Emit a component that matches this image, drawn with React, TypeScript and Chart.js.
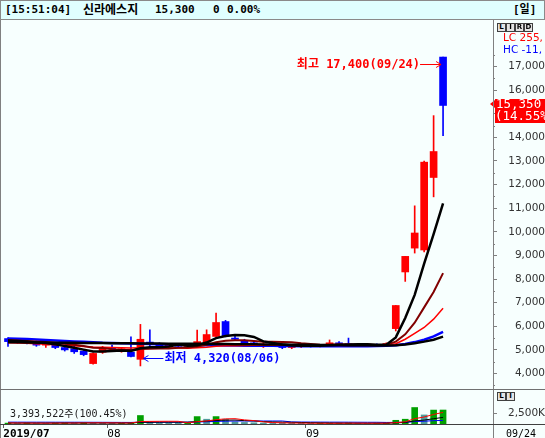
import React, { useEffect, useRef } from 'react';
import { Chart, registerables } from 'chart.js';

Chart.register(...registerables);

// ---------------- data ----------------
const dates = [
  '07/17', '07/18', '07/19', '07/22', '07/23', '07/24', '07/25', '07/26', '07/29', '07/30', '07/31',
  '08/01', '08/02', '08/05', '08/06', '08/07', '08/08', '08/09', '08/12', '08/13', '08/14', '08/16',
  '08/19', '08/20', '08/21', '08/22', '08/23', '08/26', '08/27', '08/28', '08/29', '08/30',
  '09/02', '09/03', '09/04', '09/05', '09/06', '09/09', '09/10', '09/11', '09/16', '09/17', '09/18',
  '09/19', '09/20', '09/23', '09/24',
];
const opens = [5480, 5400, 5350, 5300, 5200, 5250, 5100, 5050, 4950, 4420, 4900, 5100, 4980, 4900, 4600, 5330, 5230, 5150, 5200, 5150, 5230, 5320, 5570, 6200, 5500, 5400, 5300, 5200, 5250, 5200, 5100, 5150, 5180, 5150, 5200, 5300, 5250, 5220, 5200, 5230, 5200, 5900, 8300, 9310, 9230, 12300, 17400];
const highs = [5520, 5480, 5420, 5380, 5320, 5300, 5200, 5150, 5000, 4880, 5150, 5200, 5100, 5550, 6080, 5850, 5300, 5250, 5260, 5250, 5840, 5850, 6560, 6250, 5650, 5450, 5350, 5300, 5300, 5250, 5200, 5200, 5220, 5230, 5420, 5350, 5500, 5260, 5250, 5260, 5300, 6880, 8960, 11100, 13000, 14920, 17400];
const lows = [5150, 5280, 5250, 5150, 5100, 5050, 4950, 4850, 4750, 4400, 4850, 5000, 4900, 4700, 4320, 5150, 5050, 5080, 5100, 5100, 5200, 5300, 5550, 5550, 5400, 5250, 5200, 5100, 5150, 5050, 5050, 5100, 5120, 5130, 5180, 5200, 5200, 5150, 5150, 5150, 5150, 5800, 7900, 9100, 9150, 11480, 14070];
const closes = [5350, 5330, 5300, 5200, 5250, 5100, 5000, 4920, 4800, 4850, 5100, 5050, 5050, 4720, 5450, 5230, 5120, 5200, 5150, 5180, 5350, 5650, 6160, 5570, 5450, 5300, 5250, 5250, 5200, 5100, 5150, 5180, 5150, 5200, 5300, 5250, 5220, 5200, 5230, 5180, 5270, 6880, 8960, 9950, 12950, 13400, 15350];

const ma5 = [5400, 5380, 5350, 5310, 5290, 5240, 5160, 5090, 5010, 4930, 4930, 4950, 4970, 4950, 5070, 5110, 5110, 5140, 5230, 5180, 5200, 5310, 5500, 5590, 5630, 5620, 5550, 5360, 5290, 5230, 5190, 5180, 5170, 5180, 5200, 5220, 5230, 5240, 5240, 5220, 5220, 5530, 6350, 7330, 8650, 9900, 11200];
const ma10 = [5420, 5400, 5380, 5360, 5330, 5300, 5260, 5220, 5160, 5090, 5080, 5030, 5000, 4990, 5040, 5050, 5060, 5060, 5090, 5100, 5140, 5220, 5320, 5390, 5410, 5410, 5380, 5340, 5340, 5330, 5320, 5280, 5250, 5220, 5210, 5200, 5200, 5200, 5200, 5200, 5220, 5350, 5660, 6150, 6800, 7450, 8250];
const ma20 = [5300, 5290, 5280, 5260, 5240, 5220, 5200, 5170, 5140, 5120, 5110, 5100, 5090, 5080, 5090, 5090, 5090, 5080, 5080, 5070, 5090, 5110, 5150, 5170, 5180, 5190, 5200, 5200, 5200, 5210, 5220, 5220, 5220, 5220, 5230, 5240, 5240, 5230, 5230, 5220, 5220, 5260, 5450, 5700, 5950, 6300, 6760];
const ma60 = [5480, 5470, 5460, 5440, 5420, 5400, 5380, 5360, 5340, 5320, 5300, 5290, 5280, 5270, 5260, 5250, 5240, 5230, 5220, 5210, 5200, 5200, 5200, 5190, 5190, 5180, 5180, 5170, 5170, 5160, 5160, 5150, 5150, 5150, 5150, 5150, 5150, 5150, 5150, 5160, 5170, 5200, 5250, 5330, 5430, 5570, 5760];
const ma120 = [5320, 5320, 5315, 5310, 5310, 5305, 5300, 5300, 5295, 5290, 5290, 5285, 5280, 5280, 5275, 5270, 5270, 5265, 5260, 5260, 5255, 5250, 5250, 5245, 5240, 5240, 5235, 5230, 5230, 5225, 5220, 5220, 5215, 5210, 5210, 5205, 5200, 5200, 5195, 5190, 5190, 5200, 5230, 5280, 5350, 5430, 5560];

const volumes = [220000, 180000, 260000, 200000, 150000, 240000, 300000, 280000, 350000, 260000, 240000, 180000, 200000, 300000, 2060000, 420000, 300000, 250000, 220000, 260000, 1800000, 1160000, 1800000, 1160000, 520000, 380000, 300000, 260000, 240000, 220000, 200000, 180000, 160000, 180000, 200000, 220000, 260000, 180000, 160000, 200000, 250000, 900000, 1160000, 4000000, 2200000, 3378300, 3393522];
const volMa5 = [250000, 240000, 230000, 220000, 210000, 220000, 230000, 240000, 260000, 280000, 280000, 270000, 250000, 240000, 600000, 630000, 650000, 660000, 650000, 290000, 570000, 740000, 1050000, 1240000, 1290000, 1000000, 830000, 520000, 340000, 280000, 240000, 220000, 200000, 190000, 180000, 190000, 210000, 210000, 200000, 200000, 210000, 340000, 530000, 1300000, 1700000, 2320000, 2820000];
const volMa10 = [240000, 240000, 235000, 230000, 230000, 235000, 240000, 240000, 245000, 250000, 250000, 245000, 240000, 245000, 410000, 420000, 440000, 450000, 440000, 440000, 570000, 700000, 850000, 940000, 970000, 820000, 750000, 590000, 500000, 460000, 420000, 370000, 320000, 280000, 250000, 220000, 210000, 200000, 200000, 200000, 200000, 280000, 380000, 750000, 950000, 1280000, 1600000];
const volMa20 = [450000, 450000, 445000, 440000, 440000, 435000, 430000, 430000, 425000, 420000, 410000, 400000, 390000, 380000, 440000, 440000, 440000, 440000, 440000, 440000, 500000, 540000, 620000, 690000, 720000, 730000, 730000, 730000, 730000, 730000, 500000, 480000, 470000, 460000, 450000, 450000, 440000, 430000, 420000, 420000, 380000, 390000, 410000, 580000, 680000, 800000, 880000];

const priceTicks = [4000, 5000, 6000, 7000, 8000, 9000, 10000, 11000, 12000, 13000, 14000, 15000, 16000, 17000];
const priceMinorTicks = [3500, 4500, 5500, 6500, 7500, 8500, 9500, 10500, 11500, 12500, 13500, 14500, 15500, 16500, 17500];
const volumeTicks = [2500000];
const monthTickIndex = [0, 11, 32];
const monthTickLabels = ['2019/07', '08', '09'];

const titleTime = '[15:51:04]';
const titleName = '신라에스지';
const titlePrice = '15,300';
const titleChange = '0';
const titleRate = '0.00%';
const titlePeriod = '[일]';

// ---------------- styles ----------------
const UP = '#ff0000';
const DOWN = '#0000ff';
const MONO = "'DejaVu Sans Mono', 'Noto Sans CJK KR', monospace";
const SANS = "'DejaVu Sans', 'Noto Sans CJK KR', sans-serif";
const X_MIN = -0.846;
const X_MAX = 51.28;
const fmt = (v: number) => v.toLocaleString('en-US');

function drawArrow(ctx: CanvasRenderingContext2D, from: number, tip: number, y: number) {
  const d = tip > from ? -1 : 1;
  ctx.beginPath();
  ctx.moveTo(from, y);
  ctx.lineTo(tip, y);
  ctx.moveTo(tip + d * 5, y - 3);
  ctx.lineTo(tip, y);
  ctx.lineTo(tip + d * 5, y + 3);
  ctx.stroke();
}

const pricePlugin = {
  id: 'priceDecor',
  afterDatasetsDraw(chart: any) {
    const { ctx, scales } = chart;
    const x = scales.x;
    const y = scales.y;
    let hi = 0;
    let lo = 0;
    highs.forEach((v, i) => { if (v > highs[hi]) hi = i; });
    lows.forEach((v, i) => { if (v < lows[lo]) lo = i; });
    ctx.save();
    ctx.font = `bold 12px ${MONO}`;
    ctx.textBaseline = 'middle';
    ctx.lineWidth = 1;
    // highest
    const hTip = x.getPixelForValue(hi) - 2;
    const hy = Math.round(y.getPixelForValue(highs[hi]) + 7) + 0.5;
    ctx.strokeStyle = UP;
    ctx.fillStyle = UP;
    drawArrow(ctx, hTip - 21, hTip, hy);
    ctx.textAlign = 'right';
    ctx.fillText(`최고 ${fmt(highs[hi])}(${dates[hi]})`, hTip - 21, hy);
    // lowest
    const lTip = x.getPixelForValue(lo) + 3;
    const ly = Math.round(y.getPixelForValue(lows[lo]) - 7.5) + 0.5;
    ctx.strokeStyle = DOWN;
    ctx.fillStyle = DOWN;
    drawArrow(ctx, lTip + 20, lTip, ly);
    ctx.textAlign = 'left';
    ctx.fillText(`최저 ${fmt(lows[lo])}(${dates[lo]})`, lTip + 21, ly);
    ctx.restore();
  },
  afterDraw(chart: any) {
    const { ctx, scales, chartArea } = chart;
    const y = scales.y;
    const r = chartArea.right;
    ctx.save();
    // minor ticks
    ctx.strokeStyle = '#808080';
    ctx.lineWidth = 1;
    priceMinorTicks.forEach((v) => {
      const py = Math.round(y.getPixelForValue(v)) + 0.5;
      ctx.beginPath();
      ctx.moveTo(r, py);
      ctx.lineTo(r + 2, py);
      ctx.stroke();
    });
    // current price label
    const last = closes.length - 1;
    const py = Math.round(y.getPixelForValue(closes[last]));
    const rate = ((closes[last] - closes[last - 1]) / closes[last - 1]) * 100;
    ctx.fillStyle = UP;
    ctx.beginPath();
    ctx.moveTo(r - 3, py - 1);
    ctx.lineTo(r + 2, py - 5);
    ctx.lineTo(r + 2, py + 3);
    ctx.closePath();
    ctx.fill();
    ctx.fillRect(r + 2, py - 6, 60, 24);
    ctx.fillStyle = '#ffffff';
    ctx.font = `12.5px ${MONO}`;
    ctx.textAlign = 'left';
    ctx.textBaseline = 'middle';
    ctx.fillText(fmt(closes[last]), r + 3, py);
    ctx.fillText(`(${rate.toFixed(2)}%)`, r + 2, py + 12);
    ctx.restore();
  },
};

function lineDs(data: number[], color: string, width: number) {
  return {
    type: 'line' as const,
    data: data.map((v, i) => ({ x: i, y: v })),
    borderColor: color,
    borderWidth: width,
    pointRadius: 0,
    tension: 0,
    fill: false,
    order: 0,
  };
}

export default function App() {
  const mainRef = useRef<HTMLCanvasElement>(null);
  const volRef = useRef<HTMLCanvasElement>(null);

  useEffect(() => {
    document.body.style.margin = '0';
    const candleColor = (c: any) => (closes[c.dataIndex] >= opens[c.dataIndex] ? UP : DOWN);

    const main = new Chart(mainRef.current as HTMLCanvasElement, {
      type: 'bar',
      data: {
        datasets: [
          lineDs(ma5, '#000000', 2.5),
          lineDs(ma120, '#000000', 2.5),
          lineDs(ma10, '#800000', 2),
          lineDs(ma20, '#ff0000', 1.5),
          lineDs(ma60, '#0000ff', 2.5),
          {
            type: 'bar',
            data: opens.map((o, i) => ({ x: i, y: [o, closes[i]] })),
            backgroundColor: candleColor,
            barThickness: 7,
            minBarLength: 1,
            grouped: false,
            order: 1,
          } as any,
          {
            type: 'bar',
            data: lows.map((l, i) => ({ x: i, y: [l, highs[i]] })),
            backgroundColor: candleColor,
            barThickness: 1,
            grouped: false,
            order: 2,
          } as any,
        ],
      },
      options: {
        animation: false,
        responsive: false,
        maintainAspectRatio: false,
        layout: { padding: 0 },
        plugins: { legend: { display: false }, tooltip: { enabled: false } },
        scales: {
          x: { type: 'linear', display: false, min: X_MIN, max: X_MAX, offset: false },
          y: {
            position: 'right',
            min: 3343.6,
            max: 18927,
            afterBuildTicks: (s: any) => { s.ticks = priceTicks.map((v) => ({ value: v })); },
            afterFit: (s: any) => { s.width = 52; s.paddingTop = 0; s.paddingBottom = 0; },
            border: { display: false },
            grid: { drawOnChartArea: false, drawTicks: true, tickLength: 4, tickColor: '#808080' },
            ticks: {
              autoSkip: false,
              crossAlign: 'far',
              padding: 9,
              color: '#333333',
              font: { family: SANS, size: 10.5 },
              callback: (v: any) => fmt(Number(v)),
            },
          },
        },
      } as any,
      plugins: [pricePlugin],
    });

    const volColor = (c: any) => {
      const i = c.dataIndex;
      return i === 0 || volumes[i] >= volumes[i - 1] ? '#00a000' : '#4f9c9c';
    };

    const vol = new Chart(volRef.current as HTMLCanvasElement, {
      type: 'bar',
      data: {
        datasets: [
          { ...lineDs(volMa5, '#ff0000', 1) },
          { ...lineDs(volMa10, '#000000', 1) },
          { ...lineDs(volMa20, '#0000ff', 1) },
          {
            type: 'bar',
            data: volumes.map((v, i) => ({ x: i, y: v })),
            backgroundColor: volColor,
            barThickness: 6,
            grouped: false,
            order: 1,
          } as any,
        ],
      },
      options: {
        animation: false,
        responsive: false,
        maintainAspectRatio: false,
        layout: { padding: 0 },
        plugins: { legend: { display: false }, tooltip: { enabled: false } },
        scales: {
          x: {
            type: 'linear',
            min: X_MIN,
            max: X_MAX,
            offset: false,
            afterBuildTicks: (s: any) => { s.ticks = monthTickIndex.map((i) => ({ value: i - 0.5 })); },
            afterFit: (s: any) => { s.height = 14; s.paddingLeft = 0; s.paddingRight = 0; },
            border: { display: false },
            grid: { drawOnChartArea: false, drawTicks: true, tickLength: 4, tickColor: '#606060', offset: false },
            ticks: {
              autoSkip: false,
              maxRotation: 0,
              align: 'start',
              padding: 0,
              color: '#000000',
              font: (c: any) => ({ family: MONO, size: 11, lineHeight: 1.1, weight: c.index === 0 ? 'bold' : 'normal' }),
              callback: (_v: any, idx: number) => monthTickLabels[idx],
            },
          },
          y: {
            position: 'right',
            min: 0,
            max: 8250000,
            afterBuildTicks: (s: any) => { s.ticks = volumeTicks.map((v) => ({ value: v })); },
            afterFit: (s: any) => { s.width = 52; s.paddingTop = 0; s.paddingBottom = 0; },
            border: { display: false },
            grid: { drawOnChartArea: false, drawTicks: true, tickLength: 4, tickColor: '#808080' },
            ticks: {
              autoSkip: false,
              crossAlign: 'far',
              padding: 8,
              color: '#333333',
              font: { family: SANS, size: 10.5 },
              callback: (v: any) => `${fmt(Number(v) / 1000)}K`,
            },
          },
        },
      } as any,
    });

    return () => {
      main.destroy();
      vol.destroy();
    };
  }, []);

  const last = volumes.length - 1;
  const volText = `${fmt(volumes[last])}주(${((volumes[last] / volumes[last - 1]) * 100).toFixed(2)}%)`;

  const abs = (l: number, t: number, extra: any = {}) => ({ position: 'absolute' as const, left: l, top: t, ...extra });
  const box = (l: number, t: number, ch: string) => (
    <div key={`${l}-${t}`} style={abs(l, t, {
      width: 9, height: 9, boxSizing: 'border-box', border: '1px solid #404040', background: '#e4e4e4',
      font: `bold 7px ${SANS}`, lineHeight: '7px', textAlign: 'center', color: '#000',
    })}>{ch}</div>
  );

  return (
    <div style={{ position: 'relative', width: 545, height: 438, overflow: 'hidden', background: '#f7fffe', fontFamily: MONO }}>
      {/* title bar */}
      <div style={abs(0, 0, { width: 545, height: 20, boxSizing: 'border-box', border: '1px solid #8a8a8a', background: '#e0ffff' })} />
      <div style={abs(5, 0, { font: `bold 11px ${MONO}`, lineHeight: '20px', whiteSpace: 'pre' })}>{titleTime}</div>
      <div style={abs(83, 0, { font: `bold 12px ${MONO}`, lineHeight: '20px' })}>{titleName}</div>
      <div style={abs(155, 0, { font: `bold 11px ${MONO}`, lineHeight: '20px' })}>{titlePrice}</div>
      <div style={abs(213, 0, { font: `bold 11px ${MONO}`, lineHeight: '20px' })}>{titleChange}</div>
      <div style={abs(227, 0, { font: `bold 11px ${MONO}`, lineHeight: '20px' })}>{titleRate}</div>
      <div style={abs(513, 0, { font: `bold 11px ${MONO}`, lineHeight: '20px' })}>{titlePeriod}</div>

      <canvas ref={mainRef} width={545} height={368} style={abs(0, 21)} />
      <canvas ref={volRef} width={545} height={48} style={abs(0, 390)} />

      {/* frame lines */}
      <div style={abs(0, 20, { width: 1, height: 418, background: '#808080' })} />
      <div style={abs(493, 20, { width: 1, height: 418, background: '#808080' })} />
      <div style={abs(0, 389, { width: 545, height: 1, background: '#707070' })} />
      <div style={abs(0, 424, { width: 545, height: 1, background: '#404040' })} />

      {/* right panel decorations */}
      {['L', 'I', 'R', 'D'].map((ch, i) => box(497 + i * 9, 23, ch))}
      <div style={abs(503, 31, { font: `10.5px ${SANS}`, lineHeight: '13px', color: '#ff0000', whiteSpace: 'pre' })}>LC 255,</div>
      <div style={abs(503, 43, { font: `10.5px ${SANS}`, lineHeight: '13px', color: '#0000ff', whiteSpace: 'pre' })}>HC -11,</div>
      {['L', 'I'].map((ch, i) => box(497 + i * 9, 392, ch))}

      {/* volume caption */}
      <div style={abs(10, 407, { font: `10px ${MONO}`, lineHeight: '14px', color: '#202020', whiteSpace: 'pre' })}>{volText}</div>

      {/* last date */}
      <div style={abs(506, 427, { font: `10px ${MONO}`, lineHeight: '14px', color: '#000' })}>{dates[last]}</div>
    </div>
  );
}
